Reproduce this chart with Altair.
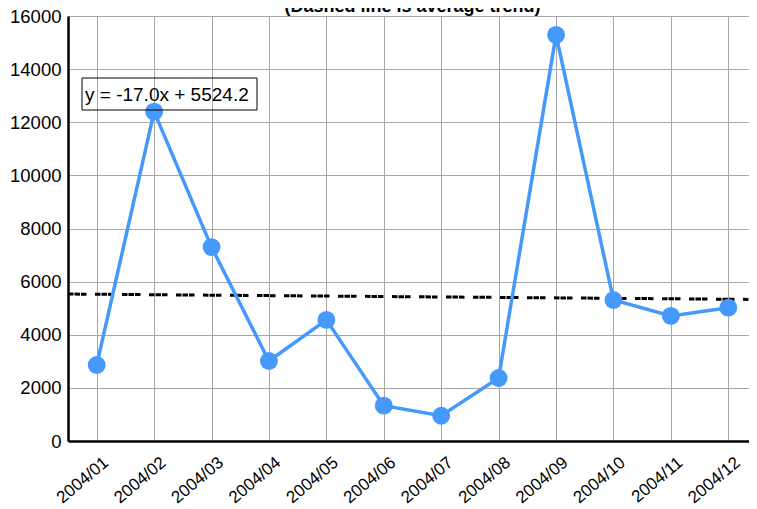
import altair as alt
import pandas as pd

months = ["2004/01", "2004/02", "2004/03", "2004/04", "2004/05", "2004/06",
          "2004/07", "2004/08", "2004/09", "2004/10", "2004/11", "2004/12"]
values = [2860, 12400, 7300, 3010, 4560, 1330, 950, 2370, 15290, 5310, 4710, 5020]
trend_slope = -17.0
trend_intercept = 5524.2
title_text = "(Dashed line is average trend)"
equation_text = "y = -17.0x + 5524.2"
y_ticks = [0, 2000, 4000, 6000, 8000, 10000, 12000, 14000, 16000]

FONT = "Liberation Sans"
BLUE = "#4499fb"

n = len(months)
step_px = 689 / n            # category spacing of the reference layout
plot_w = 681                 # visible part of the plot area (page edge cuts the rest)
x_max = -0.5 + plot_w / step_px

df = pd.DataFrame({"idx": list(range(n)), "month": months, "value": values})
trend_df = pd.DataFrame({"idx": [-0.5, n - 0.5]})
trend_df["value"] = trend_intercept + trend_slope * trend_df["idx"]
one = pd.DataFrame({"t": [title_text], "e": [equation_text]})

label_expr = "[" + ",".join(f"'{m}'" for m in months) + "][datum.value]"

x_enc = alt.X(
    "idx:Q",
    scale=alt.Scale(domain=[-0.5, x_max], nice=False, zero=False),
    axis=alt.Axis(
        values=list(range(n)), labelExpr=label_expr, title=None,
        labelAngle=-40, labelAlign="right", labelBaseline="top",
        labelPadding=13, labelOffset=4, ticks=False, labelFontSize=17,
        labelFont=FONT, labelColor="black", domainColor="black", domainWidth=2.5,
        gridColor="#a6a6a6", gridWidth=1, labelOverlap=False, labelBound=False,
    ),
)
y_enc = alt.Y(
    "value:Q",
    scale=alt.Scale(domain=[0, 16000], nice=False),
    axis=alt.Axis(
        values=y_ticks, format="d", title=None, ticks=False, labelPadding=7,
        labelFontSize=18.5, labelFont=FONT, labelColor="black",
        domainColor="black", domainWidth=2.5, gridColor="#a6a6a6", gridWidth=1,
    ),
)

trend = alt.Chart(trend_df).mark_line(
    color="black", strokeWidth=3, strokeDash=[5.5, 1, 5.5, 1, 5.5, 8.5]
).encode(x=x_enc, y=y_enc)

series_line = alt.Chart(df).mark_line(color=BLUE, strokeWidth=3.5).encode(x=x_enc, y=y_enc)
series_pts = alt.Chart(df).mark_circle(color=BLUE, size=320, opacity=1).encode(x=x_enc, y=y_enc)

title = alt.Chart(one).mark_text(
    font=FONT, fontSize=18, fontWeight="bold", color="black", align="center",
    baseline="alphabetic"
).encode(text="t:N", x=alt.value(344.5), y=alt.value(-4))

eq_box = alt.Chart(one).mark_rect(
    filled=False, stroke="black", strokeWidth=1
).encode(x=alt.value(14), x2=alt.value(189), y=alt.value(62), y2=alt.value(94))

eq_text = alt.Chart(one).mark_text(
    font=FONT, fontSize=19, color="black", align="left", baseline="middle"
).encode(text="e:N", x=alt.value(17), y=alt.value(79))

chart = alt.layer(trend, series_line, series_pts, eq_box, eq_text, title).properties(
    width=plot_w, height=425,
    autosize=alt.AutoSizeParams(type="none"),
    padding={"left": 60, "top": 8, "right": 0, "bottom": 67},
).configure_view(stroke=None).configure(background="white")

chart.save("out.html", embed_options={"renderer": "svg", "actions": False})
